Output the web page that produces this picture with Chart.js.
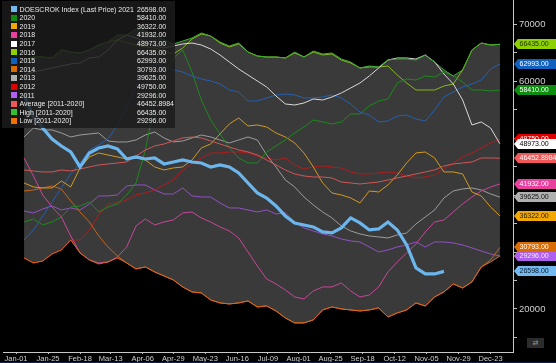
<!DOCTYPE html>
<html><head><meta charset="utf-8">
<script src="https://cdn.jsdelivr.net/npm/chart.js@4.4.1/dist/chart.umd.min.js"></script>
<style>
html,body{margin:0;padding:0;background:#000;}
#wrap{position:relative;width:556px;height:363px;background:#000;overflow:hidden;}
canvas{position:absolute;left:0;top:0;}
#legend{position:absolute;left:2px;top:1px;width:173px;height:127px;background:rgba(28,28,28,0.84);font-family:'Liberation Sans',Arial,sans-serif;font-size:7px;color:#e8e8e8;}
.row{position:absolute;left:0;width:173px;height:9px;line-height:9px;white-space:nowrap;}
.sw{position:absolute;left:9px;top:1.5px;width:6px;height:6px;}
.nm{position:absolute;left:17.5px;top:0;}
.vl{position:absolute;left:135px;top:0;}
#strip{position:absolute;left:0;bottom:0;width:556px;height:1.5px;background:#0e1f48;}
#icon{position:absolute;left:527px;top:338px;width:17px;height:10px;background:#2c2c2c;color:#9a9a9a;font:7px 'DejaVu Sans',sans-serif;line-height:10px;text-align:center;}
</style></head>
<body>
<div id="wrap">
<canvas id="c" width="556" height="363"></canvas>
<div id="legend"></div>
<div id="icon">⇄</div>
<div id="strip"></div>
</div>
<script>
// ---- data ----
const tickDays   = [0,24,48,71,95,118,142,166,189,212,236,260,284,308,332,356];
const tickLabels = ['Jan-01','Jan-25','Feb-18','Mar-13','Apr-06','Apr-29','May-23','Jun-16','Jul-09','Aug-01','Aug-25','Sep-18','Oct-12','Nov-05','Nov-29','Dec-23'];
const yTicks = [15000,20000,25000,30000,35000,40000,45000,50000,55000,60000,65000,70000];
const firstWeekDay = 6, weekStep = 7;

const s2021 = [57547,53688,51758,49829,48601,47549,44918,47373,48250,48601,48075,46321,46672,46321,46496,45444,45795,46146,45795,45619,44918,45269,44918,43865,42111,40357,39480,38077,36323,35095,34745,34394,33517,33341,34218,35972,35095,33868,34043,35270,33868,31237,27203,26150,26150,26598];
const s2020 = [35271,35797,34745,35271,36148,37901,38077,38778,37025,37901,38428,40006,42111,47900,56143,61054,64036,65440,61581,56670,53162,50706,48250,46496,45619,45619,47549,48601,49654,50882,51934,53162,52811,52460,52811,54214,54214,55617,56494,56845,59651,60353,60178,60880,60704,61581,60880,59827,58424,58424,58248,58410];
const s2019 = [42111,41410,41234,41234,42462,41410,44743,46672,47373,47022,46672,46321,46496,46146,44918,44392,44743,44918,46146,48250,48952,50706,52460,53513,52109,52284,51934,50882,50180,49128,47373,44918,42111,40357,40006,39480,38603,40708,40533,41761,43515,45619,47373,47549,46496,44041,44041,43690,40533,39831,37901,36322];
const s2018 = [46496,43339,40007,37902,36148,32815,29833,28605,28079,28254,29131,30885,34570,35797,34745,35271,35622,36850,37025,35973,35271,34394,33693,32465,30009,27553,25273,24396,23343,22116,21765,23168,23870,23870,24572,23168,22116,22467,23870,26501,28254,29833,31412,33517,35271,35622,37025,38428,39656,40708,41410,41932];
const s2017 = [61055,61581,61932,62282,62633,62984,63159,64036,64212,65440,67194,68071,67544,66843,66141,65790,66141,66492,66667,66317,65615,64563,63335,62107,61055,60002,58950,57371,55968,55793,56143,56845,56670,57196,57897,58774,59651,60879,62282,63686,64036,64036,63861,64563,63335,61230,59476,56670,52285,52811,51758,48973];
const s2016 = [63686,64212,64212,64036,65440,65088,64913,65440,66317,66843,67194,66667,66317,65966,65790,65264,64738,65790,67369,68246,67895,66667,65966,66492,65088,64387,64212,64212,64036,64913,64212,65088,64563,64738,63686,63159,62282,62458,62458,62633,61055,59651,58424,58424,58424,59125,59476,61932,65440,66667,66317,66435];
const s2015 = [32114,33868,36322,38778,41234,43690,45619,47900,48777,49829,52285,55266,59301,61581,62984,62458,61932,61581,60879,60353,60002,59476,58424,58073,56494,56494,57020,57547,57722,57547,57020,57020,57196,57547,57020,55968,54565,54039,52811,52986,53863,54039,53337,52986,54916,57196,58073,58950,59476,60178,62107,62993];
const s2014 = [40708,40884,41234,41585,41059,38954,37025,35271,32815,30885,29307,28079,27027,27377,26501,25799,25097,23870,22993,22817,21589,21063,20888,21063,21414,20361,20536,19659,18431,17554,17554,18080,19835,20361,20010,19835,19659,19835,20186,18607,19308,19835,21063,20536,22116,22993,24396,23694,24747,27377,28605,30793];
const s2013 = [50180,51758,51408,51408,50881,50180,50531,50706,50881,49478,49303,49303,49654,50531,51057,50005,49303,49478,50005,50531,50180,49654,49128,49654,50180,49654,47022,44918,42638,41410,39656,38252,37025,35972,34570,33693,33166,32815,32640,32464,32990,33341,34921,36148,37376,39480,40708,41059,41234,40884,40182,39625];
const s2012 = [28956,28079,28430,29658,30360,32114,32114,33868,36499,38428,38603,39129,40006,40357,40884,41761,42638,44392,45444,46496,47373,47373,47549,47549,47373,46847,46496,46146,46496,45269,44567,44918,45093,44918,44743,44041,43690,43690,43865,44041,43865,43339,42989,43164,43515,44567,45619,46672,47373,48250,49128,49750];
const s2011 = [37200,36849,37551,38077,37376,37726,37376,38428,39831,39831,40007,41585,41761,41761,40884,40182,40182,41234,39831,39656,39656,38603,37726,37726,37376,37025,37376,36674,36849,35271,34218,33693,33166,32815,32289,31938,31762,30885,30009,30360,30885,31236,31762,30885,31762,31762,31587,31236,30710,30184,29658,29296];
const sAvg  = [44392,44217,44041,44041,44392,44217,44567,44918,45269,45444,45619,45795,46847,47900,48601,48952,49478,50005,50180,50005,49478,48952,48426,47900,47549,47022,46146,45269,44392,43690,43339,43164,43164,42989,42287,42111,41936,42111,42287,42638,42989,43339,43690,44041,44392,45093,45444,45619,45795,46496,46496,46452.8984];
const sHigh = [63686,64212,64212,64036,65440,65088,64913,65440,66317,66843,68071,68071,69123,68772,68071,67194,66492,67018,67544,68421,67895,66843,66141,66667,65088,64387,64212,64212,64036,65088,64212,65264,64738,64913,63861,63335,62282,62633,62458,63686,63861,63861,63686,64563,63335,61932,60879,61932,65440,66667,66317,66435];
const sLow  = [28956,28079,28430,29658,30360,32114,29833,28605,27904,28254,28956,28079,27027,27377,26501,25799,25097,23870,22993,22817,21589,21063,20888,21063,21414,20361,20536,19659,18431,17554,17554,18080,19835,20361,20010,19835,19659,19835,20186,18607,19308,19835,21063,20536,22116,22993,24396,23694,24747,27377,28254,29296];

const seriesNames  = ['DOESCROK Index (Last Price) 2021','2020','2019','2018','2017','2016','2015','2014','2013','2012','2011','Average  [2011-2020]','High  [2011-2020]','Low  [2011-2020]'];
const seriesData   = [s2021,s2020,s2019,s2018,s2017,s2016,s2015,s2014,s2013,s2012,s2011,sAvg,sHigh,sLow];
const lastValues   = ['26598.00','58410.00','36322.00','41932.00','48973.00','66435.00','62993.00','30793.00','39625.00','49750.00','29296.00','46452.8984','66435.00','29296.00'];
const swatchColors = ['#72b9f0','#0e8c10','#f2a800','#e8409c','#ffffff','#8fd000','#1060c0','#d86c00','#b0b0b0','#e00000','#b060f0','#f05858','#30c030','#f07000'];
const lineColors   = ['#6cb6ee','#1c8a1c','#d29a22','#c8479a','#d8d8d8','#86b818','#2460b0','#c2661c','#9c9c9c','#b01c1c','#9052c4','#d25656','#3aae30','#e0661a'];
const tagText      = ['#0a1a30','#ffffff','#202000','#ffffff','#000000','#1a3000','#ffffff','#ffffff','#101010','#ffffff','#f4e8ff','#ffffff','#1a3000','#f4e8ff'];

// ---- legend ----
const lg = document.getElementById('legend');
seriesNames.forEach((n,i)=>{
  const r = document.createElement('div'); r.className='row'; r.style.top=(3.6+i*8.6)+'px';
  r.innerHTML = '<span class="sw" style="background:'+swatchColors[i]+'"></span><span class="nm">'+n+'</span><span class="vl">'+lastValues[i]+'</span>';
  lg.appendChild(r);
});

const toPts = arr => arr.map((v,i)=>({x:firstWeekDay+weekStep*i, y:v}));
const orders = [0,3,3,3,3,3,3,3,3,3,3,2,1,1];
const datasets = seriesData.map((arr,i)=>({
  label: seriesNames[i], data: toPts(arr), borderColor: lineColors[i],
  borderWidth: i===0 ? 3.2 : 1, pointRadius: 0, tension: 0, fill: false, order: orders[i]
}));
datasets[12].fill = {target: 13};
datasets[12].backgroundColor = '#3a3a3a';

// tags on the right at last values
const tagOrder = [12,13,11,10,9,8,7,6,5,4,3,2,1,0];
const tagPlugin = {
  id:'tags',
  afterDraw(chart){
    const ctx = chart.ctx, ys = chart.scales.y;
    ctx.save();
    ctx.font = '7px "Liberation Sans", Arial, sans-serif';
    ctx.textBaseline = 'middle';
    tagOrder.forEach(i=>{
      const arr = seriesData[i];
      const y = Math.round(ys.getPixelForValue(arr[arr.length-1]));
      const tip = 514, bl = 518, br = 556, h = 5;
      ctx.beginPath();
      ctx.moveTo(tip,y); ctx.lineTo(bl,y-h); ctx.lineTo(br,y-h); ctx.lineTo(br,y+h); ctx.lineTo(bl,y+h); ctx.closePath();
      ctx.fillStyle = swatchColors[i]; ctx.fill();
      ctx.fillStyle = tagText[i];
      ctx.fillText(lastValues[i], 519.5, y+0.5);
    });
    ctx.restore();
  }
};

new Chart(document.getElementById('c'), {
  type:'line',
  data:{datasets},
  options:{
    responsive:false, animation:false, devicePixelRatio:1,
    layout:{padding:{left:3, top:0, right:0, bottom:0}},
    plugins:{legend:{display:false}, tooltip:{enabled:false}, filler:{drawTime:'beforeDatasetsDraw'}},
    scales:{
      x:{type:'linear', min:-9.8, max:372.8,
        afterBuildTicks(s){ s.ticks = tickDays.map(v=>({value:v})); },
        afterFit(s){ s.height = 11; s.paddingLeft = 0; s.paddingRight = 0; },
        ticks:{autoSkip:false, maxRotation:0, padding:0, color:'#cfcfcf', font:{family:'Liberation Sans', size:7.5},
          callback:(v)=>{ const k=tickDays.indexOf(v); return k>=0?tickLabels[k]:''; }},
        grid:{drawOnChartArea:false, drawTicks:true, tickLength:2, color:'#bdbdbd'},
        border:{display:true, color:'#c8c8c8', width:1}
      },
      y:{type:'linear', position:'right', min:12456, max:74211,
        afterBuildTicks(s){ s.ticks = yTicks.map(v=>({value:v})); },
        afterFit(s){ s.width = 43; s.paddingTop = 0; s.paddingBottom = 0; },
        ticks:{padding:2, color:'#cfcfcf', font:{family:'Liberation Sans', size:9.5},
          callback:(v)=> (v%10000===0 ? String(v) : '')},
        grid:{drawOnChartArea:false, drawTicks:true, tickLength:4, color:'#bdbdbd'},
        border:{display:true, color:'#c8c8c8', width:1}
      }
    }
  },
  plugins:[tagPlugin]
});
</script>
</body></html>
